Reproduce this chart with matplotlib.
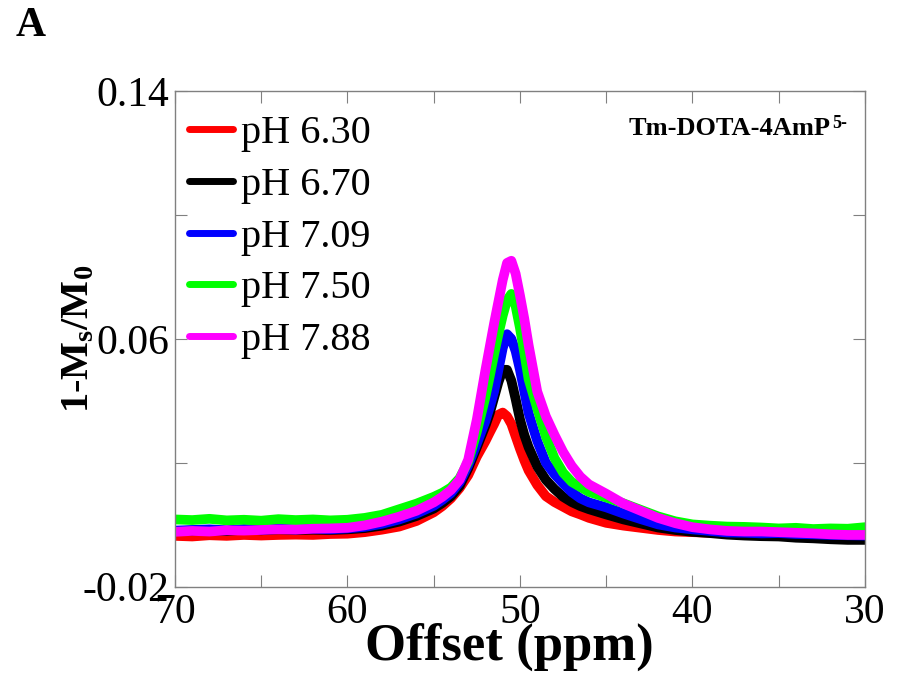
import matplotlib
matplotlib.use("Agg")
import matplotlib.pyplot as plt

plt.rcParams['font.family'] = ['Liberation Serif', 'DejaVu Serif']
plt.rcParams['mathtext.fontset'] = 'custom'
plt.rcParams['mathtext.rm'] = 'Liberation Serif:bold'
plt.rcParams['mathtext.bf'] = 'Liberation Serif:bold'
plt.rcParams['mathtext.it'] = 'Liberation Serif:italic'

# offset (ppm)
offset = [70, 69, 68, 67, 66, 65, 64, 63, 62, 61, 60, 59, 58, 57, 56, 55,
          54.5, 54, 53.5, 53, 52.5, 52, 51.75, 51.5, 51.25, 51, 50.75, 50.5, 50.25, 50, 49.75, 49.5,
          49, 48.5, 48, 47.5, 47, 46.5, 46,
          45, 44, 43, 42, 41, 40, 39, 38, 37, 36, 35, 34, 33, 32, 31, 30]

ph630 = [-0.0036, -0.0038, -0.0034, -0.0036, -0.0033, -0.0035, -0.0033, -0.0032, -0.0033, -0.0030,
         -0.0029, -0.0024, -0.0016, -0.0006, 0.0012, 0.0040,
         0.0060, 0.0085, 0.0118, 0.0160, 0.0220, 0.0270, 0.0298, 0.0325, 0.0355, 0.0362, 0.0350,
         0.0325, 0.0285, 0.0245, 0.0208, 0.0175, 0.0128, 0.0092, 0.0073, 0.0058, 0.0043, 0.0033, 0.0022,
         0.0006, -0.0003, -0.0010, -0.0017, -0.0022, -0.0024, -0.0026, -0.0027, -0.0029, -0.0030,
         -0.0028, -0.0030, -0.0031, -0.0033, -0.0033, -0.0034]

ph670 = [-0.0021, -0.0019, -0.0018, -0.0020, -0.0016, -0.0018, -0.0015, -0.0017, -0.0016, -0.0017,
         -0.0015, -0.0011, -0.0003, 0.0010, 0.0028, 0.0052,
         0.0070, 0.0092, 0.0125, 0.0182, 0.0250, 0.0320, 0.0360, 0.0410, 0.0460, 0.0500, 0.0500,
         0.0465, 0.0405, 0.0340, 0.0290, 0.0250, 0.0188, 0.0145, 0.0115, 0.0090, 0.0073, 0.0060, 0.0050,
         0.0033, 0.0017, 0.0004, -0.0009, -0.0017, -0.0023, -0.0027, -0.0032, -0.0035, -0.0037,
         -0.0038, -0.0042, -0.0044, -0.0047, -0.0049, -0.0049]

ph709 = [-0.0019, -0.0017, -0.0015, -0.0018, -0.0014, -0.0016, -0.0013, -0.0015, -0.0013, -0.0015,
         -0.0012, -0.0007, 0.0003, 0.0017, 0.0036, 0.0061,
         0.0080, 0.0102, 0.0137, 0.0192, 0.0262, 0.0335, 0.0380, 0.0430, 0.0500, 0.0570, 0.0615,
         0.0600, 0.0560, 0.0500, 0.0430, 0.0360, 0.0270, 0.0200, 0.0163, 0.0133, 0.0105, 0.0085, 0.0072,
         0.0056, 0.0036, 0.0018, 0.0001, -0.0009, -0.0015, -0.0020, -0.0025, -0.0026, -0.0028,
         -0.0027, -0.0030, -0.0031, -0.0033, -0.0034, -0.0035]

ph750 = [0.0017, 0.0015, 0.0019, 0.0014, 0.0016, 0.0013, 0.0018, 0.0015, 0.0017, 0.0014,
         0.0016, 0.0022, 0.0032, 0.0050, 0.0068, 0.0090,
         0.0103, 0.0120, 0.0150, 0.0203, 0.0300, 0.0413, 0.0480, 0.0550, 0.0615, 0.0675, 0.0725,
         0.0745, 0.0705, 0.0635, 0.0555, 0.0470, 0.0375, 0.0285, 0.0215, 0.0168, 0.0138, 0.0122, 0.0106,
         0.0088, 0.0069, 0.0048, 0.0027, 0.0011, 0.0001, -0.0003, -0.0006, -0.0007, -0.0009,
         -0.0012, -0.0010, -0.0014, -0.0012, -0.0013, -0.0008]

ph788 = [-0.0023, -0.0020, -0.0022, -0.0018, -0.0019, -0.0017, -0.0015, -0.0016, -0.0013, -0.0012,
         -0.0010, -0.0002, 0.0010, 0.0026, 0.0045, 0.0072,
         0.0090, 0.0112, 0.0145, 0.0210, 0.0340, 0.0500, 0.0575, 0.0650, 0.0720, 0.0790, 0.0845,
         0.0852, 0.0810, 0.0740, 0.0665, 0.0580, 0.0430, 0.0350, 0.0290, 0.0235, 0.0190, 0.0155, 0.0130,
         0.0100, 0.0068, 0.0045, 0.0022, 0.0005, -0.0008, -0.0015, -0.0020, -0.0022, -0.0022,
         -0.0024, -0.0026, -0.0028, -0.0031, -0.0033, -0.0033]

series = [ph630, ph670, ph709, ph750, ph788]
labels = ['pH 6.30', 'pH 6.70', 'pH 7.09', 'pH 7.50', 'pH 7.88']
colors = ['#ff0000', '#000000', '#0000ff', '#00ff00', '#ff00ff']

xticks = [70, 65, 60, 55, 50, 45, 40, 35, 30]
xticklabels = ['70', '', '60', '', '50', '', '40', '', '30']
yticks = [-0.02, 0.02, 0.06, 0.10, 0.14]
yticklabels = ['-0.02', '', '0.06', '', '0.14']

fig = plt.figure(figsize=(9, 6.78), dpi=100)
ax = fig.add_axes([0.1944, 0.1347, 0.7667, 0.7311])

for y, lab, c in zip(series, labels, colors):
    ax.plot(offset, y, color=c, lw=7, label=lab,
            solid_joinstyle='round', solid_capstyle='round')

ax.set_xlim(70, 30)
ax.set_ylim(-0.02, 0.14)
ax.set_xticks(xticks)
ax.set_xticklabels(xticklabels)
ax.set_yticks(yticks)
ax.set_yticklabels(yticklabels)
ax.tick_params(direction='in', length=8.5, width=0.8, color='#808080',
               top=True, right=True, labelsize=30, pad=4)
ax.tick_params(axis='x', pad=5)
for sp in ax.spines.values():
    sp.set_color('#808080')
    sp.set_linewidth(1.0)

ax.set_xlabel('Offset (ppm)', fontsize=38, fontweight='bold')
ax.xaxis.set_label_coords(0.485, -0.072)
ax.set_ylabel(r'1-M$_\mathregular{s}$/M$_\mathbf{0}$', fontsize=29, fontweight='bold')
ax.yaxis.set_label_coords(-0.113, 0.5)

leg = ax.legend(loc='upper left', bbox_to_anchor=(-0.015, 1.0), frameon=False, fontsize=29,
                handlelength=1.1, handletextpad=0.2, labelspacing=0.36, borderpad=0.6,
                borderaxespad=0.0)
for h in leg.get_lines():
    h.set_linewidth(5)

t = ax.text(0.658, 0.948, 'Tm-DOTA-4AmP', transform=ax.transAxes,
            ha='left', va='top', fontsize=19, fontweight='bold')
ax.annotate('5-', xy=(1, 1), xycoords=t, xytext=(0.5, 1), textcoords='offset points',
            ha='left', va='top', fontsize=13, fontweight='bold')

fig.text(0.017, 0.99, 'A', fontsize=30, fontweight='bold', va='top', ha='left')

fig.savefig('out.png', dpi=100)
